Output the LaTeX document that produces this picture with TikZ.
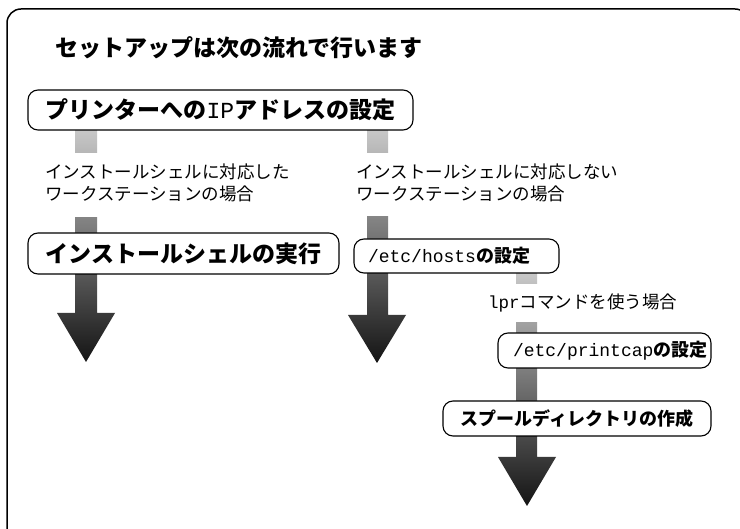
\documentclass[tikz,border=0pt]{standalone}
\usepackage{fontspec}
\setmainfont{Noto Sans CJK JP}
\newfontfamily\monof{Liberation Mono}
\definecolor{shtop}{HTML}{C8C8C8}
\definecolor{shbot}{HTML}{141414}
\tikzset{
  frameline/.style={line width=1.5pt, rounded corners=14pt},
  boxbase/.style={draw, line width=1.1pt, rounded corners=10pt, fill=white, inner sep=0pt},
  bigbox/.style={boxbase, font=\fontsize{23}{28}\selectfont\bfseries},
  smallbox/.style={boxbase, font=\fontsize{18}{22}\selectfont\bfseries},
  lbl/.style={font=\fontsize{17.5}{22}\selectfont, align=left, anchor=west, inner sep=0pt},
  titletext/.style={font=\fontsize{23}{28}\selectfont\bfseries, anchor=west, inner sep=0pt},
  flowshade/.style={top color=shtop, bottom color=shbot, draw=none},
  gapfill/.style={fill=white, draw=none}
}
\begin{document}
\begin{tikzpicture}[x=1pt,y=-1pt]
\useasboundingbox (0,0) rectangle (740,529);
\clip (0,0) rectangle (740,529);
\fill[white] (0,0) rectangle (740,529);
% outer frame
\draw[frameline] (7,560) -- (7,9) -- (749,9) -- (749,560);
% arrows
\coordinate (tipA) at (86,362);
\coordinate (tipB) at (377,363);
\coordinate (tipC) at (527,506);
\shade[flowshade] (75,130) -- (97,130) -- (97,313) -- (115,313) -- (tipA) -- (57,313) -- (75,313) -- cycle;
\shade[flowshade] (367,130) -- (388,130) -- (388,315) -- (406,315) -- (tipB) -- (348,315) -- (367,315) -- cycle;
\shade[flowshade] (516,273) -- (537,273) -- (537,457) -- (556,457) -- (tipC) -- (498,457) -- (516,457) -- cycle;
% gaps behind labels
\fill[gapfill] (70,153) rectangle (120,217);
\fill[gapfill] (360,153) rectangle (395,216);
\fill[gapfill] (510,284) rectangle (545,322);
% title
\node[titletext] (title) at (55,48) {セットアップは次の流れで行います};
% boxes
\node[bigbox, minimum width=385pt, minimum height=40pt] (b1) at (220.5,110) {プリンターへの{\mdseries\monof IP}アドレスの設定};
\node[bigbox, minimum width=311pt, minimum height=41pt] (b2) at (183.5,253.5) {インストールシェルの実行};
\node[smallbox, inner xsep=14pt, text width=177pt, minimum height=34pt, align=left] (b3) at (456.5,256) {{\mdseries\monof /etc/hosts}の設定};
\node[smallbox, inner xsep=15pt, text width=183pt, minimum height=35pt, align=left] (b4) at (604.5,350.5) {{\mdseries\monof /etc/printcap}の設定};
\node[smallbox, minimum width=268pt, minimum height=35pt] (b5) at (577,418.5) {スプールディレクトリの作成};
% labels
\node[lbl] (l1) at (45,183) {インストールシェルに対応した\\ワークステーションの場合};
\node[lbl] (l2) at (356,183) {インストールシェルに対応しない\\ワークステーションの場合};
\node[lbl] (l3) at (488,303) {{\monof lpr}コマンドを使う場合};
\end{tikzpicture}
\end{document}
